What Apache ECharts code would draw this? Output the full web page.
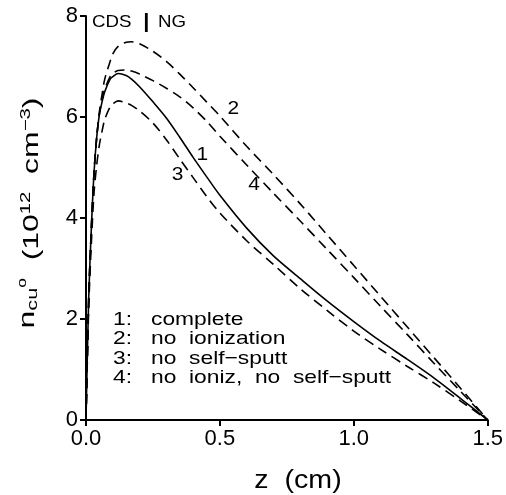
<!DOCTYPE html>
<html>
<head>
<meta charset="utf-8">
<script src="https://cdn.jsdelivr.net/npm/echarts@6/dist/echarts.min.js"></script>
<style>html,body{margin:0;padding:0;background:#fff}#c{width:506px;height:495px}</style>
</head>
<body>
<div id="c"></div>
<script>
// z positions (cm)
const zValues = [0, 0.01, 0.02, 0.03, 0.04, 0.05, 0.06, 0.07, 0.09, 0.10, 0.12, 0.15, 0.17, 0.20, 0.25, 0.30, 0.35, 0.40, 0.45, 0.50, 0.60, 0.70, 0.80, 0.90, 1.00, 1.10, 1.20, 1.30, 1.40, 1.50];
// 1: complete (solid)
const complete      = [0, 2.4, 3.8, 4.9, 5.6, 6.05, 6.3, 6.5, 6.75, 6.8, 6.86, 6.82, 6.75, 6.6, 6.3, 5.98, 5.6, 5.2, 4.82, 4.45, 3.8, 3.25, 2.8, 2.36, 1.95, 1.56, 1.2, 0.83, 0.42, 0];
// 2: no ionization
const noIonization  = [0, 2.4, 3.8, 4.9, 5.6, 6.1, 6.45, 6.75, 7.1, 7.25, 7.4, 7.48, 7.49, 7.45, 7.3, 7.1, 6.85, 6.58, 6.3, 6.02, 5.42, 4.86, 4.28, 3.67, 3.06, 2.45, 1.84, 1.23, 0.62, 0];
// 3: no self-sputt
const noSelfSputt   = [0, 2.2, 3.5, 4.5, 5.05, 5.45, 5.72, 5.95, 6.2, 6.26, 6.32, 6.28, 6.23, 6.12, 5.88, 5.55, 5.17, 4.8, 4.43, 4.1, 3.55, 3.08, 2.6, 2.17, 1.76, 1.4, 1.06, 0.73, 0.37, 0];
// 4: no ioniz, no self-sputt
const noBoth        = [0, 2.4, 3.8, 4.9, 5.6, 6.05, 6.35, 6.55, 6.8, 6.86, 6.92, 6.93, 6.91, 6.85, 6.72, 6.57, 6.4, 6.18, 5.92, 5.62, 5.05, 4.49, 3.94, 3.38, 2.82, 2.25, 1.69, 1.12, 0.56, 0];
// curve number labels [z, value, text]
const curveLabels = [[0.434, 5.25, '1'], [0.55, 6.17, '2'], [0.342, 4.85, '3'], [0.628, 4.65, '4']];
const xTicks = [0, 0.5, 1.0, 1.5];
const yTicks = [0, 2, 4, 6, 8];
const legendLines = ['1:   complete', '2:   no  ionization', '3:   no  self\u2212sputt', '4:   no  ioniz,  no  self\u2212sputt'];

const FONT = '"Liberation Sans", Arial, Helvetica, sans-serif';
const pairs = arr => zValues.map((z, i) => [z, arr[i]]);

const chart = echarts.init(document.getElementById('c'), null, {renderer: 'canvas'});
const lineBase = {type: 'line', showSymbol: false, symbol: 'none', smooth: 0.3, silent: true, animation: false};

const graphics = [];
legendLines.forEach((t, i) => {
  graphics.push({type: 'text', x: 113, y: 329 + i * 19.5, scaleX: 1.2,
    style: {text: t, font: 'normal 19px ' + FONT, fill: '#000', textAlign: 'left', align: 'left', textVerticalAlign: 'bottom', verticalAlign: 'bottom'}});
});
graphics.push({type: 'text', x: 92, y: 32, scaleX: 1.1,
  style: {text: 'CDS {p||} NG', font: 'normal 17px ' + FONT, fill: '#000', textAlign: 'left', align: 'left', textVerticalAlign: 'bottom', verticalAlign: 'bottom',
    rich: {p: {fontSize: 20, fontWeight: 'bold', fontFamily: FONT, fill: '#000', padding: [0, 3, 0, 6], verticalAlign: 'bottom'}}}});
graphics.push({type: 'text', x: 298, y: 481, scaleX: 1.1,
  style: {text: 'z  (cm)', font: 'normal 26px ' + FONT, fill: '#000', textAlign: 'center', align: 'center', textVerticalAlign: 'middle', verticalAlign: 'middle'}});
graphics.push({type: 'text', x: 30, y: 213, rotation: Math.PI / 2, scaleX: 1.45,
  style: {
    text: '{n|n}{sub|cu}{sup|o}{m|  (10}{sup2|12}{m|  cm}{sup2|\u22123}{m|)}',
    fill: '#000', textAlign: 'center', align: 'center', textVerticalAlign: 'middle', verticalAlign: 'middle',
    font: 'normal 22px ' + FONT,
    rich: {
      n: {fontSize: 22, fontFamily: FONT, fill: '#000', verticalAlign: 'bottom', padding: [0, 0, 4, 0]},
      m: {fontSize: 22, fontFamily: FONT, fill: '#000', verticalAlign: 'bottom'},
      sub: {fontSize: 15, fontFamily: FONT, fill: '#000', verticalAlign: 'bottom', padding: [0, 0, 3, 0]},
      sup: {fontSize: 12, fontFamily: FONT, fill: '#000', verticalAlign: 'bottom', padding: [0, 0, 14, 0]},
      sup2: {fontSize: 14, fontFamily: FONT, fill: '#000', verticalAlign: 'bottom', padding: [0, 0, 10, 0]}
    }
  }});

chart.setOption({
  animation: false,
  backgroundColor: '#fff',
  grid: {left: 86, right: 15.5, top: 16, bottom: 75},
  xAxis: {
    type: 'value', min: xTicks[0], max: xTicks[xTicks.length - 1], interval: 0.5,
    axisLine: {show: true, onZero: false, lineStyle: {color: '#000', width: 2}},
    axisTick: {show: true, inside: false, length: 6, lineStyle: {color: '#000', width: 2}},
    axisLabel: {color: '#000', fontSize: 22, fontFamily: FONT, margin: 8, formatter: v => v.toFixed(1)},
    splitLine: {show: false}
  },
  yAxis: {
    type: 'value', min: yTicks[0], max: yTicks[yTicks.length - 1], interval: 2,
    axisLine: {show: true, onZero: false, lineStyle: {color: '#000', width: 2}},
    axisTick: {show: true, inside: false, length: 6, lineStyle: {color: '#000', width: 2}},
    axisLabel: {color: '#000', fontSize: 22, fontFamily: FONT, margin: 8},
    splitLine: {show: false}
  },
  series: [
    Object.assign({}, lineBase, {name: '1', data: pairs(complete), lineStyle: {color: '#000', width: 1.6, type: 'solid'}}),
    Object.assign({}, lineBase, {name: '2', data: pairs(noIonization), lineStyle: {color: '#000', width: 1.6, type: [10, 6]}}),
    Object.assign({}, lineBase, {name: '3', data: pairs(noSelfSputt), lineStyle: {color: '#000', width: 1.6, type: [10, 6]}}),
    Object.assign({}, lineBase, {name: '4', data: pairs(noBoth), lineStyle: {color: '#000', width: 1.6, type: [10, 6]}})
  ],
  graphic: graphics
});

// curve number labels placed through the chart's own coordinate system
const labelGraphics = curveLabels.map(d => {
  const p = chart.convertToPixel({gridIndex: 0}, [d[0], d[1]]);
  return {type: 'text', x: p[0], y: p[1], scaleX: 1.1,
    style: {text: d[2], font: 'normal 19px ' + FONT, fill: '#000', textAlign: 'center', align: 'center', textVerticalAlign: 'middle', verticalAlign: 'middle'}};
});
chart.setOption({graphic: graphics.concat(labelGraphics)});
</script>
</body>
</html>
